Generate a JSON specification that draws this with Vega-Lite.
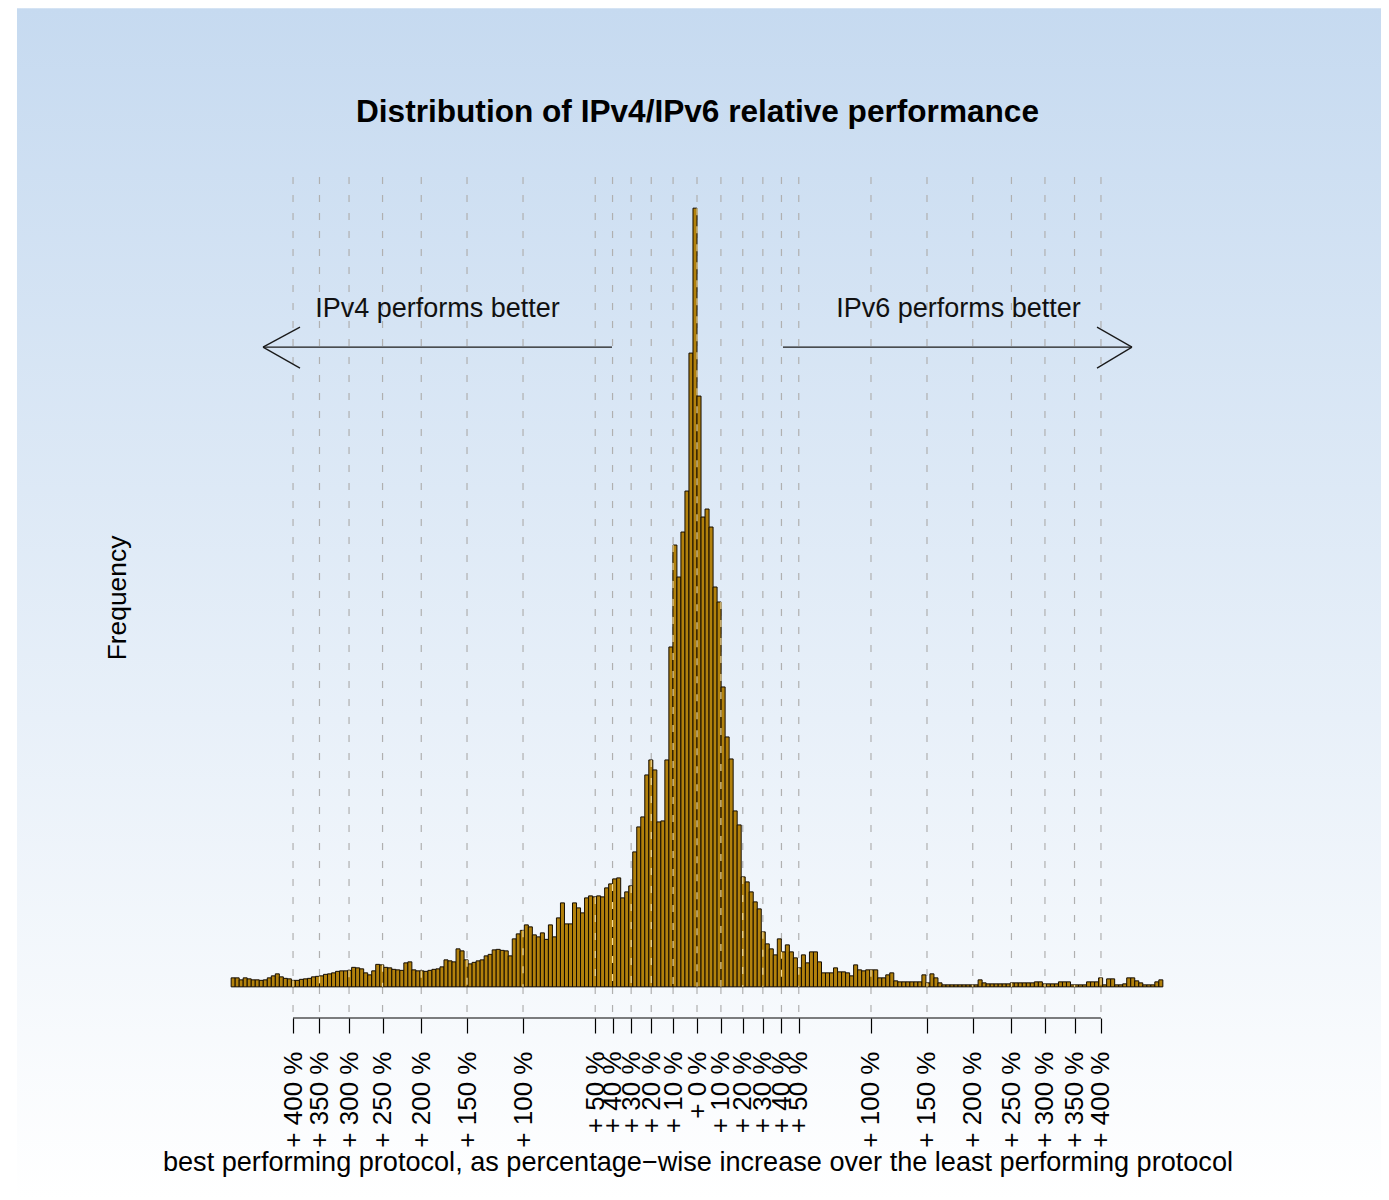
{
  "$schema": "https://vega.github.io/schema/vega-lite/v6.json",
  "width": 1009,
  "height": 841,
  "autosize": {"type": "none"},
  "padding": {"left": 193, "top": 177, "right": 187, "bottom": 182},
  "background": "#ffffff",
  "config": {
    "view": {"stroke": null},
    "axis": {"grid": false},
    "font": "Liberation Sans"
  },
  "resolve": {"axis": {"x": "independent", "y": "independent"}},
  "title": {
    "text": "Distribution of IPv4/IPv6 relative performance",
    "fontSize": 31.6,
    "font": "Liberation Sans",
    "fontWeight": "bold",
    "color": "#000000",
    "anchor": "middle",
    "frame": "group",
    "offset": -145,
    "baseline": "alphabetic",
    "zindex": 1
  },
  "datasets": {
    "ticks": [
      {"v": -1.609438, "n": 13}, {"v": -1.504077, "n": 21}, {"v": -1.386294, "n": 33},
      {"v": -1.252763, "n": 44}, {"v": -1.098612, "n": 32}, {"v": -0.916291, "n": 54},
      {"v": -0.693147, "n": 113}, {"v": -0.405465, "n": 180}, {"v": -0.336472, "n": 206},
      {"v": -0.262364, "n": 202}, {"v": -0.182322, "n": 454}, {"v": -0.09531, "n": 884},
      {"v": 0, "n": 1558},
      {"v": 0.09531, "n": 770}, {"v": 0.182322, "n": 220}, {"v": 0.262364, "n": 110},
      {"v": 0.336472, "n": 70}, {"v": 0.405465, "n": 38}, {"v": 0.693147, "n": 34},
      {"v": 0.916291, "n": 8}, {"v": 1.098612, "n": 4}, {"v": 1.252763, "n": 8},
      {"v": 1.386294, "n": 6}, {"v": 1.504077, "n": 4}, {"v": 1.609438, "n": 18}
    ],
    "segments": [
      {"xa": -1.7291, "ya": 1280, "xb": -0.3386, "yb": 1280},
      {"xa": -1.7291, "ya": 1280, "xb": -1.5817, "yb": 1320},
      {"xa": -1.7291, "ya": 1280, "xb": -1.5817, "yb": 1238},
      {"xa": 0.3426, "ya": 1280, "xb": 1.7331, "yb": 1280},
      {"xa": 1.7331, "ya": 1280, "xb": 1.5936, "yb": 1320},
      {"xa": 1.7331, "ya": 1280, "xb": 1.5936, "yb": 1238}
    ],
    "notes": [
      {"x": -1.0339, "y": 1340, "label": "IPv4 performs better"},
      {"x": 1.0418, "y": 1340, "label": "IPv6 performs better"}
    ],
    "bins": [
      {"lo": -1.856, "hi": -1.84, "n": 18}, {"lo": -1.84, "hi": -1.824, "n": 18}, {"lo": -1.824, "hi": -1.808, "n": 14},
      {"lo": -1.808, "hi": -1.792, "n": 18}, {"lo": -1.792, "hi": -1.776, "n": 16}, {"lo": -1.776, "hi": -1.76, "n": 14},
      {"lo": -1.76, "hi": -1.744, "n": 14}, {"lo": -1.744, "hi": -1.728, "n": 13}, {"lo": -1.728, "hi": -1.712, "n": 14},
      {"lo": -1.712, "hi": -1.696, "n": 18}, {"lo": -1.696, "hi": -1.68, "n": 22}, {"lo": -1.68, "hi": -1.664, "n": 26},
      {"lo": -1.664, "hi": -1.648, "n": 20}, {"lo": -1.648, "hi": -1.632, "n": 17}, {"lo": -1.632, "hi": -1.616, "n": 16},
      {"lo": -1.616, "hi": -1.6, "n": 13}, {"lo": -1.6, "hi": -1.584, "n": 13}, {"lo": -1.584, "hi": -1.568, "n": 15},
      {"lo": -1.568, "hi": -1.552, "n": 16}, {"lo": -1.552, "hi": -1.536, "n": 17}, {"lo": -1.536, "hi": -1.52, "n": 20},
      {"lo": -1.52, "hi": -1.504, "n": 21}, {"lo": -1.504, "hi": -1.488, "n": 22}, {"lo": -1.488, "hi": -1.472, "n": 25},
      {"lo": -1.472, "hi": -1.456, "n": 26}, {"lo": -1.456, "hi": -1.44, "n": 28}, {"lo": -1.44, "hi": -1.424, "n": 31},
      {"lo": -1.424, "hi": -1.408, "n": 32}, {"lo": -1.408, "hi": -1.392, "n": 32}, {"lo": -1.392, "hi": -1.376, "n": 33},
      {"lo": -1.376, "hi": -1.36, "n": 39}, {"lo": -1.36, "hi": -1.344, "n": 38}, {"lo": -1.344, "hi": -1.328, "n": 36},
      {"lo": -1.328, "hi": -1.312, "n": 28}, {"lo": -1.312, "hi": -1.296, "n": 24}, {"lo": -1.296, "hi": -1.28, "n": 32},
      {"lo": -1.28, "hi": -1.264, "n": 45}, {"lo": -1.264, "hi": -1.248, "n": 44}, {"lo": -1.248, "hi": -1.232, "n": 39},
      {"lo": -1.232, "hi": -1.216, "n": 38}, {"lo": -1.216, "hi": -1.2, "n": 35}, {"lo": -1.2, "hi": -1.184, "n": 34},
      {"lo": -1.184, "hi": -1.168, "n": 33}, {"lo": -1.168, "hi": -1.152, "n": 48}, {"lo": -1.152, "hi": -1.136, "n": 50},
      {"lo": -1.136, "hi": -1.12, "n": 34}, {"lo": -1.12, "hi": -1.104, "n": 32}, {"lo": -1.104, "hi": -1.088, "n": 32},
      {"lo": -1.088, "hi": -1.072, "n": 31}, {"lo": -1.072, "hi": -1.056, "n": 33}, {"lo": -1.056, "hi": -1.04, "n": 35},
      {"lo": -1.04, "hi": -1.024, "n": 36}, {"lo": -1.024, "hi": -1.008, "n": 40}, {"lo": -1.008, "hi": -0.992, "n": 54},
      {"lo": -0.992, "hi": -0.976, "n": 52}, {"lo": -0.976, "hi": -0.96, "n": 50}, {"lo": -0.96, "hi": -0.944, "n": 76},
      {"lo": -0.944, "hi": -0.928, "n": 72}, {"lo": -0.928, "hi": -0.912, "n": 54}, {"lo": -0.912, "hi": -0.896, "n": 46},
      {"lo": -0.896, "hi": -0.88, "n": 49}, {"lo": -0.88, "hi": -0.864, "n": 52}, {"lo": -0.864, "hi": -0.848, "n": 54},
      {"lo": -0.848, "hi": -0.832, "n": 62}, {"lo": -0.832, "hi": -0.816, "n": 65}, {"lo": -0.816, "hi": -0.8, "n": 74},
      {"lo": -0.8, "hi": -0.784, "n": 75}, {"lo": -0.784, "hi": -0.768, "n": 73}, {"lo": -0.768, "hi": -0.752, "n": 72},
      {"lo": -0.752, "hi": -0.736, "n": 62}, {"lo": -0.736, "hi": -0.72, "n": 96}, {"lo": -0.72, "hi": -0.704, "n": 106},
      {"lo": -0.704, "hi": -0.688, "n": 113}, {"lo": -0.688, "hi": -0.672, "n": 124}, {"lo": -0.672, "hi": -0.656, "n": 120},
      {"lo": -0.656, "hi": -0.64, "n": 104}, {"lo": -0.64, "hi": -0.624, "n": 100}, {"lo": -0.624, "hi": -0.608, "n": 108},
      {"lo": -0.608, "hi": -0.592, "n": 95}, {"lo": -0.592, "hi": -0.576, "n": 124}, {"lo": -0.576, "hi": -0.56, "n": 100},
      {"lo": -0.56, "hi": -0.544, "n": 138}, {"lo": -0.544, "hi": -0.528, "n": 168}, {"lo": -0.528, "hi": -0.512, "n": 126},
      {"lo": -0.512, "hi": -0.496, "n": 126}, {"lo": -0.496, "hi": -0.48, "n": 168}, {"lo": -0.48, "hi": -0.464, "n": 158},
      {"lo": -0.464, "hi": -0.448, "n": 148}, {"lo": -0.448, "hi": -0.432, "n": 178}, {"lo": -0.432, "hi": -0.416, "n": 182},
      {"lo": -0.416, "hi": -0.4, "n": 180}, {"lo": -0.4, "hi": -0.384, "n": 182}, {"lo": -0.384, "hi": -0.368, "n": 180},
      {"lo": -0.368, "hi": -0.352, "n": 198}, {"lo": -0.352, "hi": -0.336, "n": 206}, {"lo": -0.336, "hi": -0.32, "n": 216},
      {"lo": -0.32, "hi": -0.304, "n": 218}, {"lo": -0.304, "hi": -0.288, "n": 178}, {"lo": -0.288, "hi": -0.272, "n": 190},
      {"lo": -0.272, "hi": -0.256, "n": 202}, {"lo": -0.256, "hi": -0.24, "n": 270}, {"lo": -0.24, "hi": -0.224, "n": 320},
      {"lo": -0.224, "hi": -0.208, "n": 340}, {"lo": -0.208, "hi": -0.192, "n": 424}, {"lo": -0.192, "hi": -0.176, "n": 454},
      {"lo": -0.176, "hi": -0.16, "n": 434}, {"lo": -0.16, "hi": -0.144, "n": 330}, {"lo": -0.144, "hi": -0.128, "n": 332},
      {"lo": -0.128, "hi": -0.112, "n": 454}, {"lo": -0.112, "hi": -0.096, "n": 680}, {"lo": -0.096, "hi": -0.08, "n": 884},
      {"lo": -0.08, "hi": -0.064, "n": 820}, {"lo": -0.064, "hi": -0.048, "n": 910}, {"lo": -0.048, "hi": -0.032, "n": 992},
      {"lo": -0.032, "hi": -0.016, "n": 1268}, {"lo": -0.016, "hi": 0, "n": 1558}, {"lo": 0, "hi": 0.016, "n": 1182},
      {"lo": 0.016, "hi": 0.032, "n": 940}, {"lo": 0.032, "hi": 0.048, "n": 956}, {"lo": 0.048, "hi": 0.064, "n": 920},
      {"lo": 0.064, "hi": 0.08, "n": 800}, {"lo": 0.08, "hi": 0.096, "n": 770}, {"lo": 0.096, "hi": 0.112, "n": 600},
      {"lo": 0.112, "hi": 0.128, "n": 500}, {"lo": 0.128, "hi": 0.144, "n": 456}, {"lo": 0.144, "hi": 0.16, "n": 352},
      {"lo": 0.16, "hi": 0.176, "n": 324}, {"lo": 0.176, "hi": 0.192, "n": 220}, {"lo": 0.192, "hi": 0.208, "n": 210},
      {"lo": 0.208, "hi": 0.224, "n": 190}, {"lo": 0.224, "hi": 0.24, "n": 170}, {"lo": 0.24, "hi": 0.256, "n": 156},
      {"lo": 0.256, "hi": 0.272, "n": 110}, {"lo": 0.272, "hi": 0.288, "n": 86}, {"lo": 0.288, "hi": 0.304, "n": 76},
      {"lo": 0.304, "hi": 0.32, "n": 64}, {"lo": 0.32, "hi": 0.336, "n": 96}, {"lo": 0.336, "hi": 0.352, "n": 70},
      {"lo": 0.352, "hi": 0.368, "n": 84}, {"lo": 0.368, "hi": 0.384, "n": 70}, {"lo": 0.384, "hi": 0.4, "n": 58},
      {"lo": 0.4, "hi": 0.416, "n": 38}, {"lo": 0.416, "hi": 0.432, "n": 64}, {"lo": 0.432, "hi": 0.448, "n": 48},
      {"lo": 0.448, "hi": 0.464, "n": 70}, {"lo": 0.464, "hi": 0.48, "n": 70}, {"lo": 0.48, "hi": 0.496, "n": 50},
      {"lo": 0.496, "hi": 0.512, "n": 28}, {"lo": 0.512, "hi": 0.528, "n": 28}, {"lo": 0.528, "hi": 0.544, "n": 28},
      {"lo": 0.544, "hi": 0.56, "n": 38}, {"lo": 0.56, "hi": 0.576, "n": 30}, {"lo": 0.576, "hi": 0.592, "n": 30},
      {"lo": 0.592, "hi": 0.608, "n": 28}, {"lo": 0.608, "hi": 0.624, "n": 22}, {"lo": 0.624, "hi": 0.64, "n": 44},
      {"lo": 0.64, "hi": 0.656, "n": 34}, {"lo": 0.656, "hi": 0.672, "n": 32}, {"lo": 0.672, "hi": 0.688, "n": 34},
      {"lo": 0.688, "hi": 0.704, "n": 34}, {"lo": 0.704, "hi": 0.72, "n": 34}, {"lo": 0.72, "hi": 0.736, "n": 18},
      {"lo": 0.736, "hi": 0.752, "n": 18}, {"lo": 0.752, "hi": 0.768, "n": 24}, {"lo": 0.768, "hi": 0.784, "n": 28},
      {"lo": 0.784, "hi": 0.8, "n": 12}, {"lo": 0.8, "hi": 0.816, "n": 10}, {"lo": 0.816, "hi": 0.832, "n": 10},
      {"lo": 0.832, "hi": 0.848, "n": 10}, {"lo": 0.848, "hi": 0.864, "n": 10}, {"lo": 0.864, "hi": 0.88, "n": 10},
      {"lo": 0.88, "hi": 0.896, "n": 10}, {"lo": 0.896, "hi": 0.912, "n": 24}, {"lo": 0.912, "hi": 0.928, "n": 8},
      {"lo": 0.928, "hi": 0.944, "n": 26}, {"lo": 0.944, "hi": 0.96, "n": 18}, {"lo": 0.96, "hi": 0.976, "n": 8},
      {"lo": 0.976, "hi": 0.992, "n": 4}, {"lo": 0.992, "hi": 1.008, "n": 4}, {"lo": 1.008, "hi": 1.024, "n": 4},
      {"lo": 1.024, "hi": 1.04, "n": 4}, {"lo": 1.04, "hi": 1.056, "n": 4}, {"lo": 1.056, "hi": 1.072, "n": 4},
      {"lo": 1.072, "hi": 1.088, "n": 4}, {"lo": 1.088, "hi": 1.104, "n": 4}, {"lo": 1.104, "hi": 1.12, "n": 4},
      {"lo": 1.12, "hi": 1.136, "n": 14}, {"lo": 1.136, "hi": 1.152, "n": 8}, {"lo": 1.152, "hi": 1.168, "n": 6},
      {"lo": 1.168, "hi": 1.184, "n": 6}, {"lo": 1.184, "hi": 1.2, "n": 6}, {"lo": 1.2, "hi": 1.216, "n": 6},
      {"lo": 1.216, "hi": 1.232, "n": 6}, {"lo": 1.232, "hi": 1.248, "n": 6}, {"lo": 1.248, "hi": 1.264, "n": 8},
      {"lo": 1.264, "hi": 1.28, "n": 8}, {"lo": 1.28, "hi": 1.296, "n": 8}, {"lo": 1.296, "hi": 1.312, "n": 8},
      {"lo": 1.312, "hi": 1.328, "n": 8}, {"lo": 1.328, "hi": 1.344, "n": 8}, {"lo": 1.344, "hi": 1.36, "n": 10},
      {"lo": 1.36, "hi": 1.376, "n": 10}, {"lo": 1.376, "hi": 1.392, "n": 6}, {"lo": 1.392, "hi": 1.408, "n": 6},
      {"lo": 1.408, "hi": 1.424, "n": 6}, {"lo": 1.424, "hi": 1.44, "n": 6}, {"lo": 1.44, "hi": 1.456, "n": 10},
      {"lo": 1.456, "hi": 1.472, "n": 10}, {"lo": 1.472, "hi": 1.488, "n": 10}, {"lo": 1.488, "hi": 1.504, "n": 4},
      {"lo": 1.504, "hi": 1.52, "n": 4}, {"lo": 1.52, "hi": 1.536, "n": 4}, {"lo": 1.536, "hi": 1.552, "n": 4},
      {"lo": 1.552, "hi": 1.568, "n": 10}, {"lo": 1.568, "hi": 1.584, "n": 10}, {"lo": 1.584, "hi": 1.6, "n": 10},
      {"lo": 1.6, "hi": 1.616, "n": 18}, {"lo": 1.616, "hi": 1.632, "n": 4}, {"lo": 1.632, "hi": 1.648, "n": 16},
      {"lo": 1.648, "hi": 1.664, "n": 16}, {"lo": 1.664, "hi": 1.68, "n": 4}, {"lo": 1.68, "hi": 1.696, "n": 4},
      {"lo": 1.696, "hi": 1.712, "n": 6}, {"lo": 1.712, "hi": 1.728, "n": 18}, {"lo": 1.728, "hi": 1.744, "n": 18},
      {"lo": 1.744, "hi": 1.76, "n": 12}, {"lo": 1.76, "hi": 1.776, "n": 8}, {"lo": 1.776, "hi": 1.792, "n": 4},
      {"lo": 1.792, "hi": 1.808, "n": 4}, {"lo": 1.808, "hi": 1.824, "n": 4}, {"lo": 1.824, "hi": 1.84, "n": 10},
      {"lo": 1.84, "hi": 1.856, "n": 14}
    ]
  },
  "layer": [
    {
      "data": {"values": [{}]},
      "mark": {
        "type": "rect",
        "fill": {
          "gradient": "linear",
          "x1": 0, "y1": 0, "x2": 0, "y2": 1,
          "stops": [
            {"offset": 0, "color": "#c6daf0"},
            {"offset": 1, "color": "#ffffff"}
          ]
        }
      },
      "encoding": {
        "x": {"datum": -2.7092, "type": "quantitative", "axis": null},
        "x2": {"datum": 2.7251},
        "y": {"datum": 1958, "type": "quantitative", "axis": null},
        "y2": {"datum": -426}
      }
    },
    {
      "data": {"name": "ticks"},
      "mark": {"type": "rule", "color": "#b0b0b0", "strokeDash": [7, 11], "strokeWidth": 1.2},
      "encoding": {
        "x": {"field": "v", "type": "quantitative", "axis": null}
      }
    },
    {
      "data": {"name": "bins"},
      "mark": {"type": "rect", "fill": "#b2810c", "stroke": "#140c00", "strokeWidth": 1},
      "encoding": {
        "x": {
          "field": "lo",
          "type": "quantitative",
          "scale": {"domain": [-2.00797, 2.01195], "nice": false, "zero": false},
          "axis": {
            "title": "best performing protocol, as percentage−wise increase over the least performing protocol",
            "values": [-1.609438, -1.504077, -1.386294, -1.252763, -1.098612, -0.916291, -0.693147, -0.405465, -0.336472, -0.262364, -0.182322, -0.09531, 0, 0.09531, 0.182322, 0.262364, 0.336472, 0.405465, 0.693147, 0.916291, 1.098612, 1.252763, 1.386294, 1.504077, 1.609438],
            "labelExpr": "'+ ' + round((exp(abs(datum.value)) - 1) * 100) + ' %'",
            "labelAngle": 270,
            "labelAlign": "right",
            "labelBaseline": "middle",
            "labelFont": "Liberation Sans",
            "labelFontSize": 26,
            "labelColor": "#000000",
            "labelPadding": 18,
            "labelOverlap": false,
            "labelFlush": false,
            "labelBound": false,
            "ticks": true,
            "tickSize": 15,
            "tickColor": "#000000",
            "tickWidth": 1.2,
            "domain": false,
            "grid": false,
            "titleFont": "Liberation Sans",
            "titleFontSize": 27.1,
            "titleFontWeight": "normal",
            "titleColor": "#000000",
            "titlePadding": 2,
            "zindex": 1
          }
        },
        "x2": {"field": "hi"},
        "y": {
          "field": "n",
          "type": "quantitative",
          "scale": {"domain": [-62.32, 1620.32], "nice": false, "zero": false},
          "axis": {
            "title": "Frequency",
            "labels": false,
            "ticks": false,
            "domain": false,
            "grid": false,
            "titleFont": "Liberation Sans",
            "titleFontSize": 26.4,
            "titleFontWeight": "normal",
            "titleColor": "#000000",
            "titlePadding": 62,
            "zindex": 1
          }
        },
        "y2": {"datum": 0}
      }
    },
    {
      "data": {"name": "ticks"},
      "mark": {"type": "rule", "color": "#f0d898", "strokeDash": [7, 11], "strokeWidth": 1.2},
      "encoding": {
        "x": {"field": "v", "type": "quantitative", "axis": null},
        "y": {"field": "n", "type": "quantitative", "axis": null},
        "y2": {"datum": 0}
      }
    },
    {
      "data": {"values": [{}]},
      "mark": {"type": "rule", "color": "#000000", "strokeWidth": 1.2},
      "encoding": {
        "x": {"datum": -1.609438, "type": "quantitative", "axis": null},
        "x2": {"datum": 1.609438},
        "y": {"datum": -62.32, "type": "quantitative", "axis": null}
      }
    },
    {
      "data": {"name": "segments"},
      "mark": {"type": "rule", "color": "#1a1a1a", "strokeWidth": 1.3},
      "encoding": {
        "x": {"field": "xa", "type": "quantitative", "axis": null},
        "x2": {"field": "xb"},
        "y": {"field": "ya", "type": "quantitative", "axis": null},
        "y2": {"field": "yb"}
      }
    },
    {
      "data": {"name": "notes"},
      "mark": {"type": "text", "font": "Liberation Sans", "fontSize": 27, "color": "#111111", "align": "center", "baseline": "alphabetic"},
      "encoding": {
        "x": {"field": "x", "type": "quantitative", "axis": null},
        "y": {"field": "y", "type": "quantitative", "axis": null},
        "text": {"field": "label"}
      }
    }
  ]
}
